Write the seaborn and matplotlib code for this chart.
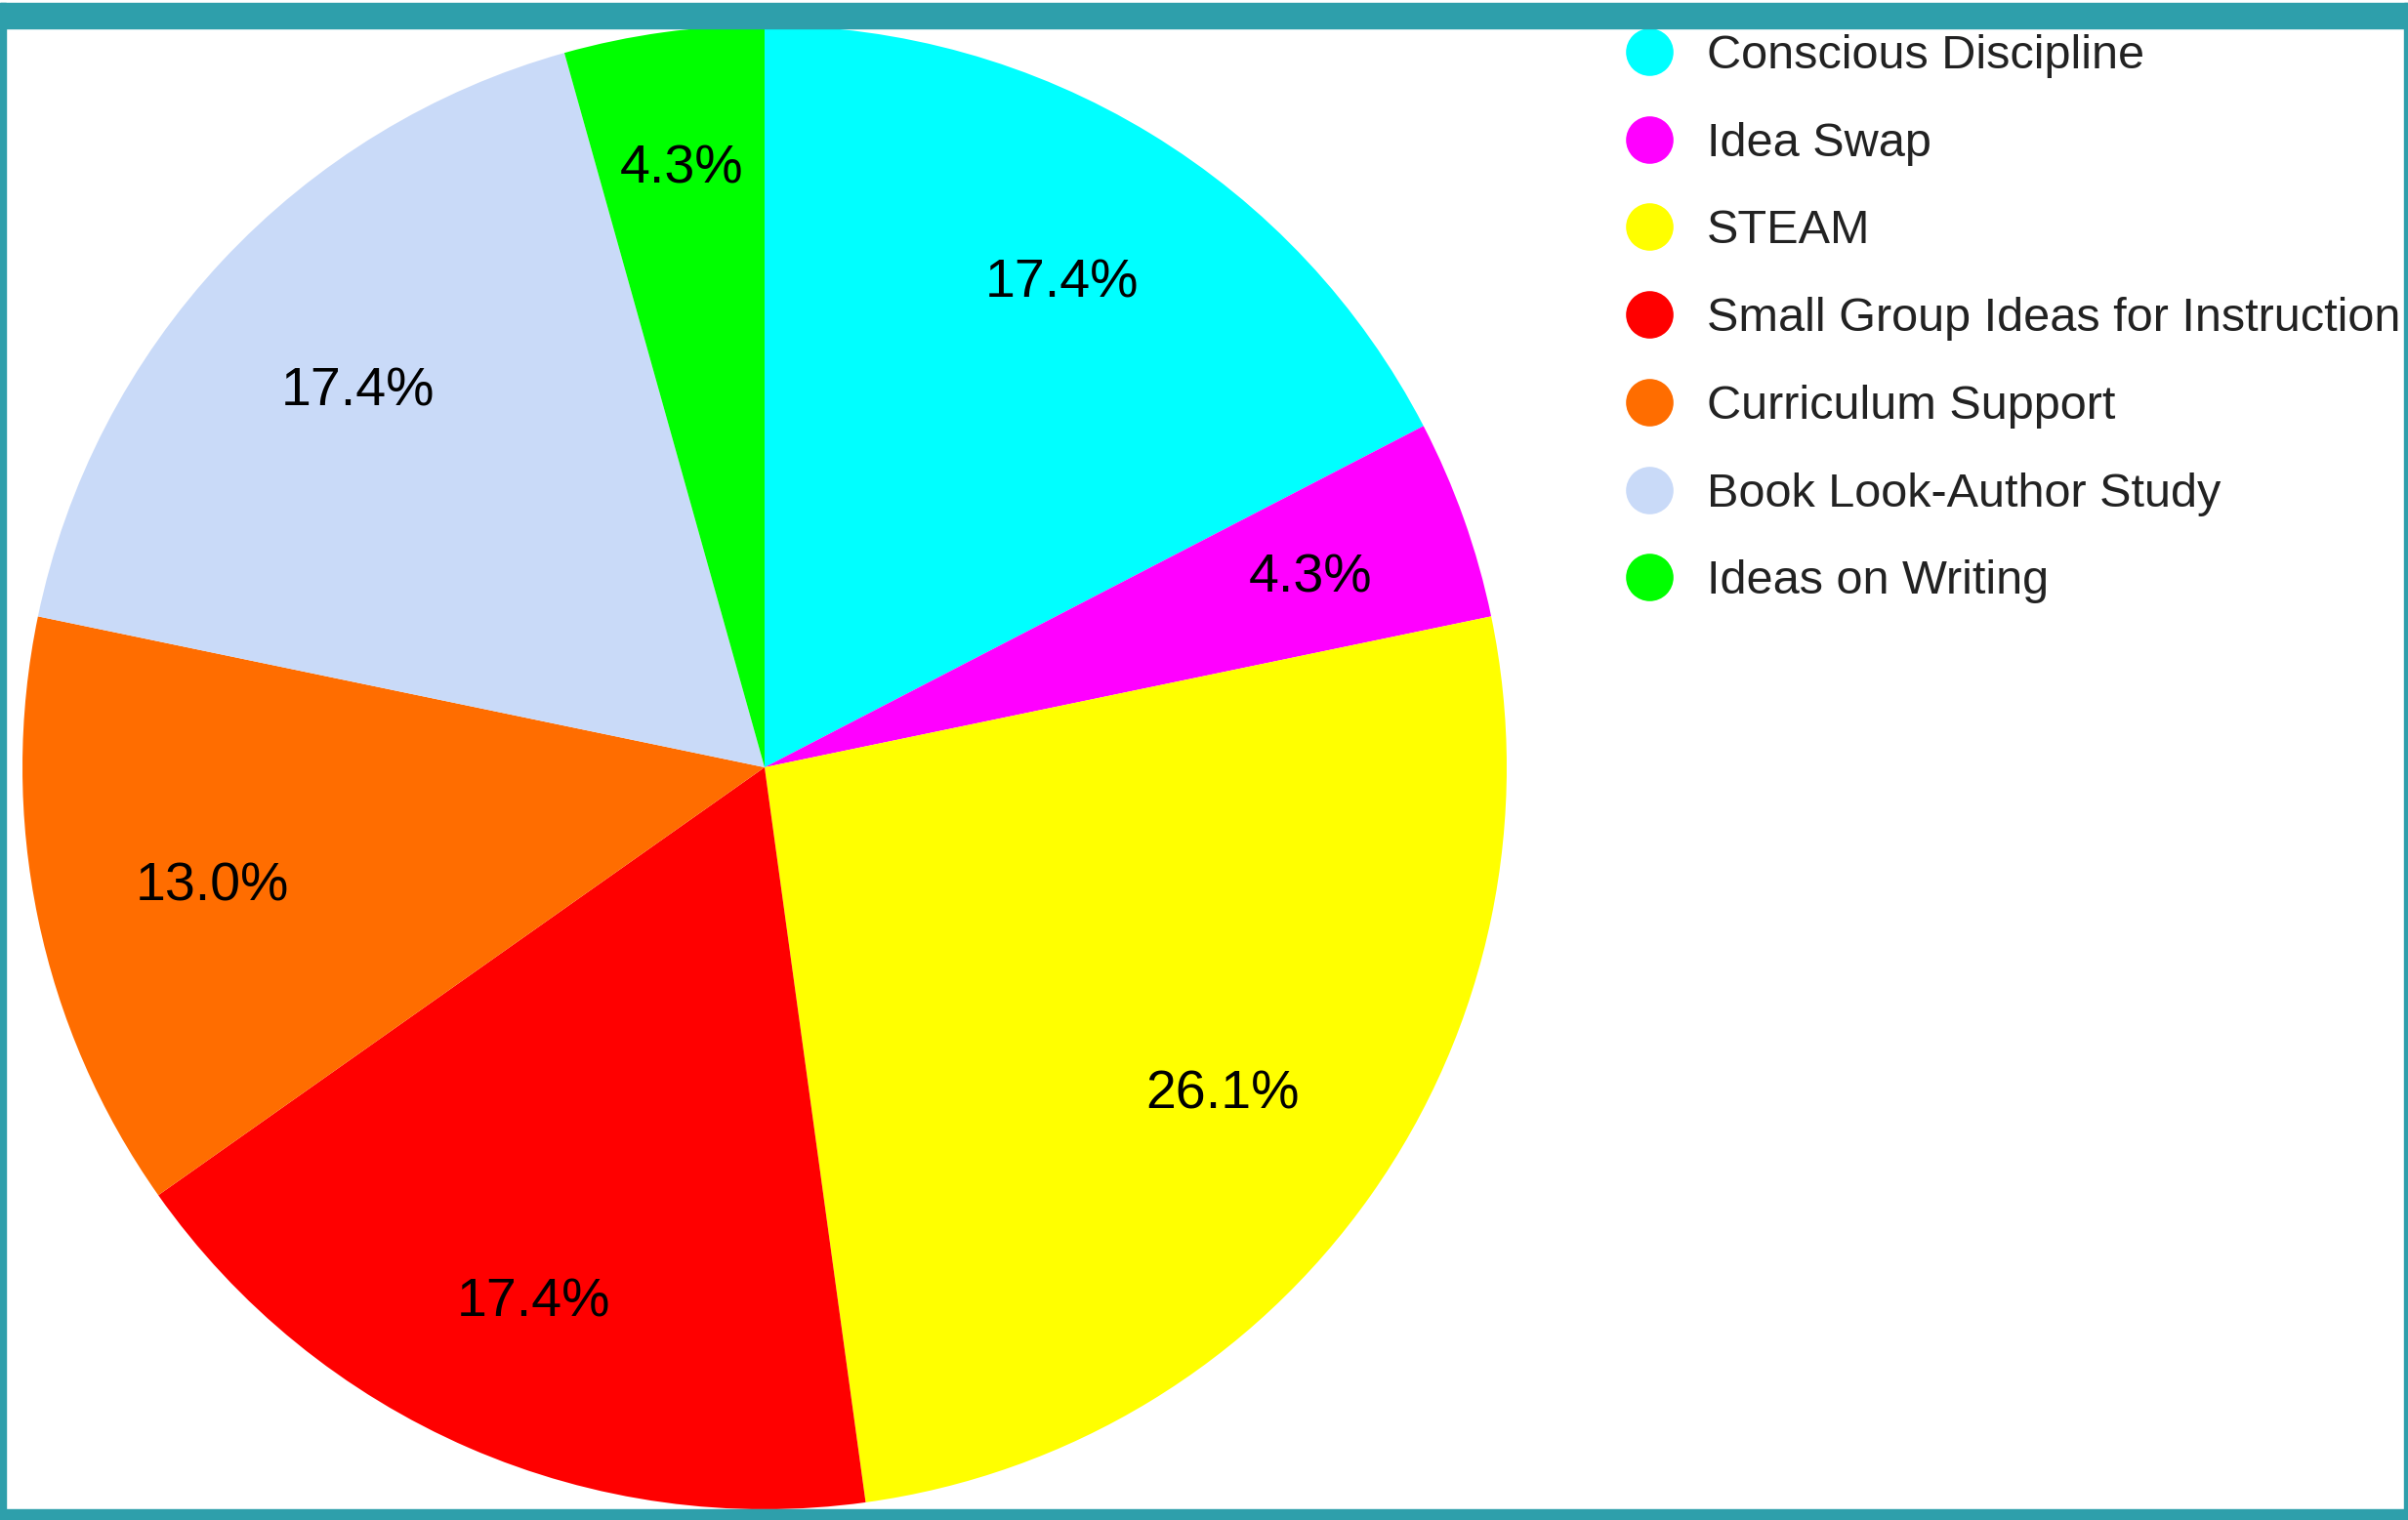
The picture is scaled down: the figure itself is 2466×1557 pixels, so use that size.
import matplotlib
matplotlib.use("Agg")
import numpy as np
import matplotlib.pyplot as plt
from matplotlib.lines import Line2D
from matplotlib.patches import Rectangle
import seaborn as sns

categories = ["Conscious Discipline", "Idea Swap", "STEAM",
              "Small Group Ideas for Instruction", "Curriculum Support",
              "Book Look-Author Study", "Ideas on Writing"]
counts = [4, 1, 6, 4, 3, 4, 1]
slice_colors = ["#00FFFF", "#FF00FF", "#FFFF00", "#FF0000",
                "#FF6D00", "#C9DAF8", "#00FF00"]
# label distance from centre, as fraction of radius
label_dist = [0.77, 0.78, 0.755, 0.78, 0.76, 0.75, 0.82]

sns.set_theme(style="white")
plt.rcParams['font.family'] = ['Liberation Sans', 'DejaVu Sans']

palette = sns.color_palette(slice_colors)
teal = "#2E9FAB"

fig = plt.figure(figsize=(24.66, 15.57), dpi=100)
W, H = 2466, 1557
cx, cy, r = 783, 786, 760
ax = fig.add_axes([(cx - r) / W, (H - cy - r) / H, 2 * r / W, 2 * r / H])

wedges, texts, autotexts = ax.pie(
    counts, colors=palette, startangle=90, counterclock=False,
    autopct="%1.1f%%", pctdistance=0.76,
    wedgeprops={"linewidth": 0},
    textprops={"fontsize": 40, "color": "black"})
for w, t, d in zip(wedges, autotexts, label_dist):
    ang = np.deg2rad((w.theta1 + w.theta2) / 2)
    t.set_position((d * np.cos(ang), d * np.sin(ang) - 0.006))
ax.set_xlim(-1, 1)
ax.set_ylim(-1, 1)
ax.set_aspect("equal")
ax.axis("off")

handles = [Line2D([0], [0], marker="o", linestyle="", markersize=35,
                  markerfacecolor=c, markeredgewidth=0) for c in palette]
leg = fig.legend(handles, categories, loc="upper left",
                 bbox_to_anchor=(1665 / W, 1 - 35 / H), frameon=False,
                 fontsize=35, handlelength=1.0, handletextpad=0.7,
                 labelspacing=0.92, borderpad=0, borderaxespad=0)
for t in leg.get_texts():
    t.set_color("#222222")

# teal frame around the chart
fig.patches.append(Rectangle((0, 1 - 29 / H), 1, 26 / H, transform=fig.transFigure,
                             color=teal, zorder=10))
fig.patches.append(Rectangle((0, 0), 1, 11 / H, transform=fig.transFigure,
                             color=teal, zorder=10))
fig.patches.append(Rectangle((0, 0), 6 / W, 1 - 3 / H, transform=fig.transFigure,
                             color=teal, zorder=10))
fig.patches.append(Rectangle((1 - 4 / W, 0), 4 / W, 1 - 3 / H, transform=fig.transFigure,
                             color=teal, zorder=10))

fig.savefig("out.png", dpi=100)
plt.close("all")
